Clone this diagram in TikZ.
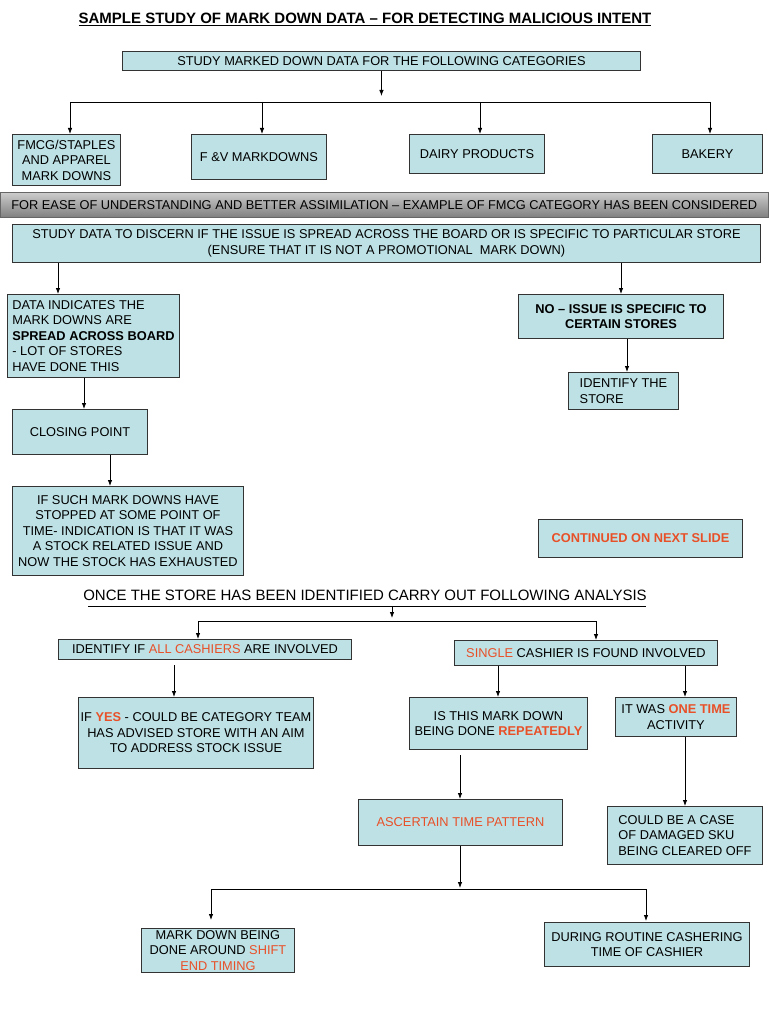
\documentclass[tikz,border=0pt]{standalone}
\usepackage{fontspec}
\setmainfont{Liberation Sans}
\usetikzlibrary{arrows.meta}
\definecolor{boxfill}{RGB}{190,225,229}
\definecolor{hl}{RGB}{232,80,40}
\newcommand{\hlr}[1]{\textcolor{hl}{#1}}
\newcommand{\hlb}[1]{\textcolor{hl}{\bfseries #1}}
\begin{document}
\begin{tikzpicture}[x=1pt,y=-1pt,
 box/.style={draw=black!80, line width=0.9pt, fill=boxfill, anchor=north west, inner sep=1pt, align=center, font=\fontsize{12.8}{15.5}\selectfont},
 lbox/.style={box, align=left},
 arr/.style={-{Latex[length=6pt,width=4.5pt]}, line width=0.8pt},
 ln/.style={line width=0.8pt}]
\useasboundingbox[fill=white] (0,0) rectangle (768,1024);

\node (title) at (365,19) {\fontsize{15}{17}\selectfont\bfseries\underline{SAMPLE STUDY OF MARK DOWN DATA – FOR DETECTING MALICIOUS INTENT}};

\node[box, minimum width=518, minimum height=19] (b1) at (122,51) {STUDY MARKED DOWN DATA FOR THE FOLLOWING CATEGORIES};
\node[box, minimum width=108, minimum height=51] (fmcg) at (12,134) {FMCG/STAPLES\\AND APPAREL\\MARK DOWNS};
\node[box, minimum width=135, minimum height=45] (fv) at (191,134) {F \&V MARKDOWNS};
\node[box, minimum width=135, minimum height=39] (dairy) at (409,134) {DAIRY PRODUCTS};
\node[box, minimum width=110, minimum height=39] (bakery) at (652,134) {BAKERY};

\node[anchor=north west, minimum width=768, minimum height=25, inner sep=0pt, draw=black!60, line width=0.6pt,
  top color=black!20, bottom color=black!50, font=\fontsize{12.8}{15.5}\selectfont] (banner) at (0,192)
  {FOR EASE OF UNDERSTANDING AND BETTER ASSIMILATION – EXAMPLE OF FMCG CATEGORY HAS BEEN CONSIDERED};

\node[box, minimum width=748, minimum height=38] (study) at (12,224) {STUDY DATA TO DISCERN IF THE ISSUE IS SPREAD ACROSS THE BOARD OR IS SPECIFIC TO PARTICULAR STORE\\(ENSURE THAT IT IS NOT A PROMOTIONAL\ \ MARK DOWN)};

\node[lbox, minimum width=172, minimum height=83] (data) at (7,294) {DATA INDICATES THE\\MARK DOWNS ARE\\\textbf{SPREAD ACROSS BOARD}\\- LOT OF STORES\\HAVE DONE THIS};
\node[box, minimum width=205, minimum height=44, font=\fontsize{12.8}{15.5}\selectfont\bfseries] (no) at (518,294) {NO – ISSUE IS SPECIFIC TO\\CERTAIN STORES};
\node[lbox, minimum width=110, minimum height=37] (ident) at (568,372) {IDENTIFY THE\\STORE};
\node[box, minimum width=135, minimum height=45] (closing) at (12,409) {CLOSING POINT};
\node[box, minimum width=231, minimum height=89] (ifsuch) at (12,486) {IF SUCH MARK DOWNS HAVE\\STOPPED AT SOME POINT OF\\TIME- INDICATION IS THAT IT WAS\\A STOCK RELATED ISSUE AND\\NOW THE STOCK HAS EXHAUSTED};
\node[box, minimum width=204, minimum height=38] (cont) at (538,519) {\hlb{CONTINUED ON NEXT SLIDE}};

\node (once) at (365,595) {\fontsize{15}{17}\selectfont ONCE THE STORE HAS BEEN IDENTIFIED CARRY OUT FOLLOWING ANALYSIS};

\node[box, minimum width=293, minimum height=20] (allc) at (58,639) {IDENTIFY IF \hlr{ALL CASHIERS} ARE INVOLVED};
\node[box, minimum width=263, minimum height=25] (single) at (454,640) {\hlr{SINGLE} CASHIER IS FOUND INVOLVED};
\node[box, minimum width=235, minimum height=71] (ifyes) at (78,697) {IF \hlb{YES} - COULD BE CATEGORY TEAM\\HAS ADVISED STORE WITH AN AIM\\TO ADDRESS STOCK ISSUE};
\node[box, minimum width=178, minimum height=52] (isthis) at (409,697) {IS THIS MARK DOWN\\BEING DONE \hlb{REPEATEDLY}};
\node[box, minimum width=121, minimum height=39] (onetime) at (615,697) {IT WAS \hlb{ONE TIME}\\ACTIVITY};
\node[box, minimum width=204, minimum height=46] (ascert) at (358,799) {\hlr{ASCERTAIN TIME PATTERN}};
\node[lbox, minimum width=155, minimum height=58] (could) at (607,806) {COULD BE A CASE\\OF DAMAGED SKU\\BEING CLEARED OFF};
\node[box, minimum width=153, minimum height=44] (shift) at (141,928) {MARK DOWN BEING\\DONE AROUND \hlr{SHIFT}\\\hlr{END TIMING}};
\node[box, minimum width=205, minimum height=44] (routine) at (544,922) {DURING ROUTINE CASHERING\\TIME OF CASHIER};

% top tree
\coordinate (a1) at (384,96);
\coordinate (hL) at (70,102);
\coordinate (h2) at (262,102);
\coordinate (h3) at (480,102);
\coordinate (hR) at (710,102);
\draw[arr] (b1.south) -- (b1.south |- a1);
\draw[ln] (hL) -- (hR);
\draw[arr] (hL) -- (hL |- fmcg.north);
\draw[arr] (h2) -- (h2 |- fv.north);
\draw[arr] (h3) -- (h3 |- dairy.north);
\draw[arr] (hR) -- (hR |- bakery.north);

% study branch
\coordinate (s1) at (58,0);
\coordinate (s2) at (621,0);
\coordinate (s3) at (627,0);
\coordinate (s4) at (84,0);
\coordinate (s5) at (110,0);
\draw[arr] (study.south -| s1) -- (data.north -| s1);
\draw[arr] (study.south -| s2) -- (no.north -| s2);
\draw[arr] (no.south -| s3) -- (ident.north -| s3);
\draw[arr] (data.south -| s4) -- (closing.north -| s4);
\draw[arr] (closing.south -| s5) -- (ifsuch.north -| s5);

% second part
\coordinate (uL) at (88,606);
\coordinate (uR) at (646,606);
\coordinate (uM) at (392,606);
\coordinate (uA) at (392,618);
\draw[line width=0.7pt] (uL) -- (uR);
\draw[arr] (uM) -- (uA);
\coordinate (cL) at (198,621);
\coordinate (cR) at (596,621);
\draw[ln] (cL) -- (cR);
\draw[arr] (cL) -- (cL |- allc.north);
\draw[arr] (cR) -- (cR |- single.north);

\coordinate (t1) at (174,665);
\draw[arr] (t1) -- (t1 |- ifyes.north);
\coordinate (t2) at (498,0);
\coordinate (t3) at (685,0);
\draw[arr] (single.south -| t2) -- (isthis.north -| t2);
\draw[arr] (single.south -| t3) -- (onetime.north -| t3);
\draw[arr] (onetime.south -| t3) -- (could.north -| t3);
\coordinate (t4) at (460,755);
\draw[arr] (t4) -- (t4 |- ascert.north);

\coordinate (dM) at (460,888);
\coordinate (dL) at (211,889);
\coordinate (dR) at (646,889);
\coordinate (dLe) at (211,920);
\coordinate (dRe) at (646,921);
\draw[arr] (ascert.south -| dM) -- (dM);
\draw[ln] (dL) -- (dR);
\draw[arr] (dL) -- (dLe);
\draw[arr] (dR) -- (dRe);
\end{tikzpicture}
\end{document}
